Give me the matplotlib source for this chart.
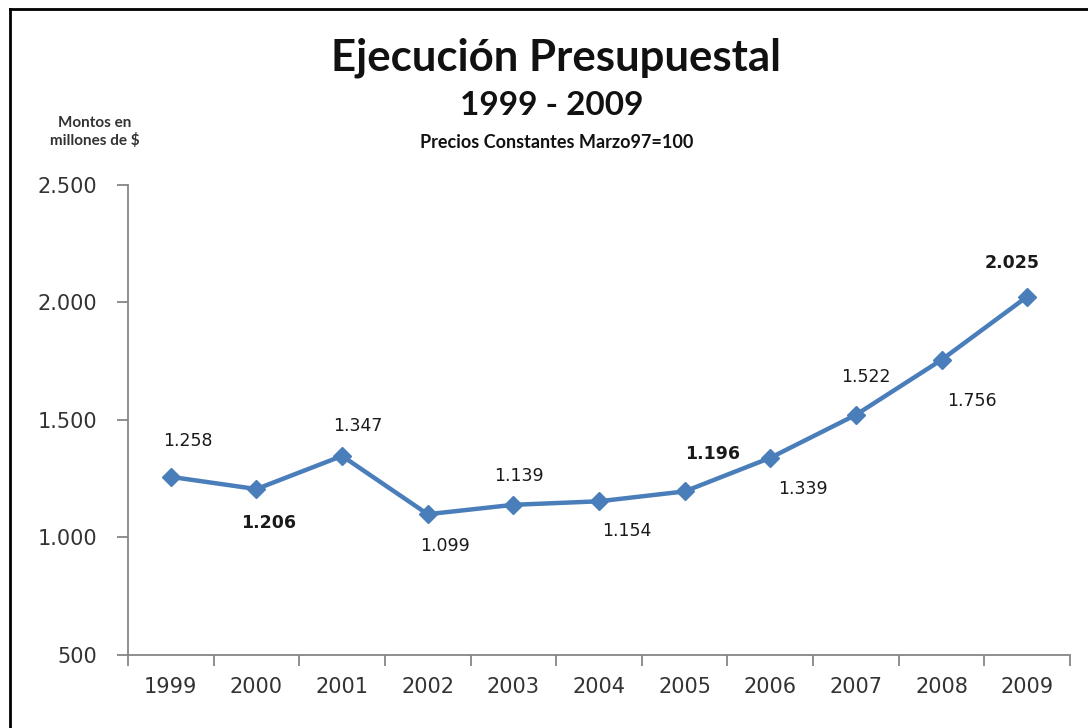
import matplotlib.pyplot as plt
from matplotlib.lines import Line2D

years = ["1999", "2000", "2001", "2002", "2003", "2004",
         "2005", "2006", "2007", "2008", "2009"]
montos = [1258, 1206, 1347, 1099, 1139, 1154, 1196, 1339, 1522, 1756, 2025]
bold_labels = ["2000", "2005", "2009"]

# label offsets (pixels) relative to each point
label_dx = [17, 12, 16, 17, 6, 28, 28, 33, 10, 30, -15]
label_dy = [36, -34, 30, -32, 29, -30, 37, -31, 38, -41, 34]

y_ticks = [500, 1000, 1500, 2000, 2500]

blue = "#4A7EBB"
axis_gray = "#868686"

fig = plt.figure(figsize=(10.88, 7.28), dpi=100)
ax = fig.add_axes([0.1176, 0.1003, 0.9835 - 0.1176, 0.7459 - 0.1003])

x = list(range(len(years)))
ax.plot(x, montos, color=blue, lw=3.2, marker="D", markersize=9,
        markerfacecolor=blue, markeredgecolor=blue, zorder=3)

for i, v in enumerate(montos):
    txt = f"{v:,}".replace(",", ".")
    weight = "bold" if years[i] in bold_labels else "normal"
    ax.annotate(txt, (i, v), xytext=(label_dx[i] * 0.72, label_dy[i] * 0.72),
                textcoords="offset points", ha="center", va="center",
                fontsize=12.5, fontweight=weight, color="#1a1a1a")

ax.set_xlim(-0.5, len(years) - 0.5)
ax.set_ylim(500, 2500)
ax.set_yticks(y_ticks)
ax.set_yticklabels([f"{t:,}".replace(",", ".") for t in y_ticks])

ax.set_xticks([i - 0.5 for i in range(len(years) + 1)])
ax.set_xticklabels([])
ax.set_xticks(x, minor=True)
ax.set_xticklabels(years, minor=True)
ax.tick_params(axis="x", which="minor", length=0, pad=16, labelsize=15,
               labelcolor="#333333")
ax.tick_params(axis="x", which="major", length=8, width=1.3,
               color=axis_gray, direction="out")
ax.tick_params(axis="y", length=8, width=1.3, color=axis_gray,
               direction="out", pad=14, labelsize=15, labelcolor="#333333")

for s in ["top", "right"]:
    ax.spines[s].set_visible(False)
for s in ["left", "bottom"]:
    ax.spines[s].set_color(axis_gray)
    ax.spines[s].set_linewidth(1.3)

fig.text(0.511, 0.920, "Ejecución Presupuestal", ha="center", va="center",
         fontsize=31.5, fontweight="bold", family="Lato", color="#111111")
fig.text(0.507, 0.855, "1999 - 2009", ha="center", va="center",
         fontsize=24, fontweight="bold", family="Lato", color="#111111")
fig.text(0.512, 0.804, "Precios Constantes Marzo97=100", ha="center",
         va="center", fontsize=13, fontweight="bold", family="Lato",
         color="#111111")
fig.text(0.087, 0.818, "Montos en\nmillones de $", ha="center", va="center",
         fontsize=11, fontweight="bold", family="Lato", color="#333333",
         linespacing=1.25)

# frame lines along the top and left edges
fig.add_artist(Line2D([0.0092, 0.0092], [0.0, 0.987], transform=fig.transFigure,
                      color="black", lw=2))
fig.add_artist(Line2D([0.0092, 1.0], [0.987, 0.987], transform=fig.transFigure,
                      color="black", lw=2))

fig.savefig("out.png", dpi=100)
